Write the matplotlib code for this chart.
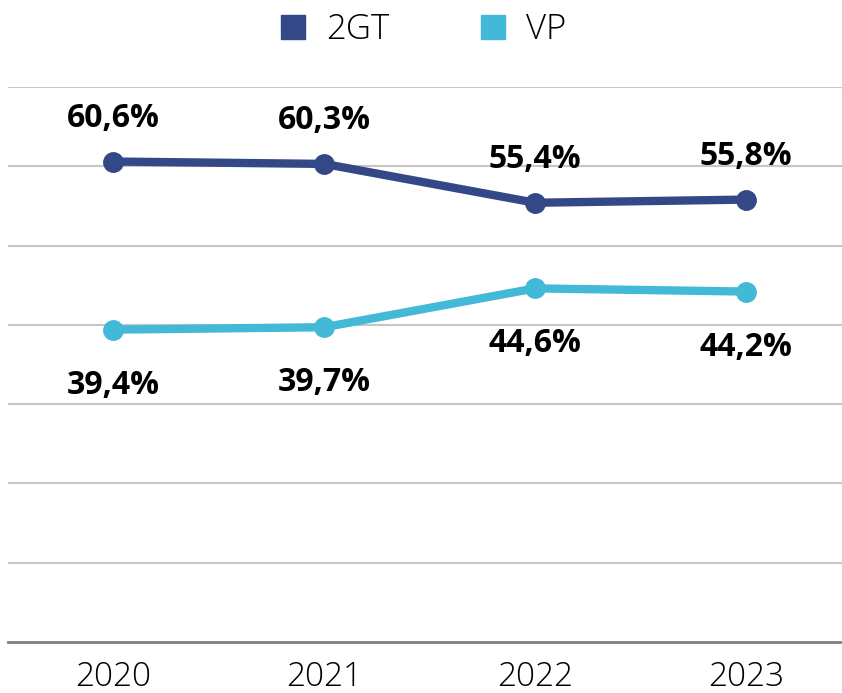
import matplotlib
matplotlib.use("Agg")
import matplotlib.pyplot as plt
from matplotlib.lines import Line2D

years = ["2020", "2021", "2022", "2023"]
gt2 = [60.6, 60.3, 55.4, 55.8]
vp = [39.4, 39.7, 44.6, 44.2]

dark = "#334886"
light = "#42B9D6"

plt.rcParams["font.family"] = ["Open Sans", "DejaVu Sans"]

fig = plt.figure(figsize=(8.42, 6.93), dpi=100)
ax = fig.add_axes([8 / 842, 51 / 693, 834 / 842, 555 / 693])

x = range(len(years))
ax.plot(x, gt2, color=dark, lw=6, marker="o", ms=14, solid_capstyle="round", zorder=3)
ax.plot(x, vp, color=light, lw=6, marker="o", ms=14, solid_capstyle="round", zorder=3)

def fmt(v):
    return f"{v:.1f}%".replace(".", ",")

for i, v in enumerate(gt2):
    ax.annotate(fmt(v), (i, v), xytext=(0, 31), textcoords="offset points",
                ha="center", va="center", fontsize=23, fontweight="bold", color="black")
for i, v in enumerate(vp):
    ax.annotate(fmt(v), (i, v), xytext=(0, -40), textcoords="offset points",
                ha="center", va="center", fontsize=23, fontweight="bold", color="black")

ax.set_ylim(0, 70)
ax.set_xlim(-0.5, 3.455)
ax.set_yticks(range(10, 71, 10))
ax.yaxis.grid(True, color="#c6c6c6", lw=1.5)
ax.set_axisbelow(True)
ax.tick_params(axis="y", length=0, labelleft=False)
ax.tick_params(axis="x", length=0, pad=13, labelsize=24)
ax.set_xticks(list(x))
ax.set_xticklabels(years, fontweight="light")
for s in ["top", "right", "left"]:
    ax.spines[s].set_visible(False)
ax.spines["bottom"].set_color("#7f7f7f")
ax.spines["bottom"].set_linewidth(2)

handles = [Line2D([], [], ls="none", marker="s", ms=17, color=dark),
           Line2D([], [], ls="none", marker="s", ms=17, color=light)]
fig.legend(handles, ["2GT", "VP"], loc="center", bbox_to_anchor=(0.5, 1 - 30 / 693),
           ncol=2, frameon=False, prop={"size": 25, "weight": "light"},
           columnspacing=2.5, handletextpad=0.45, handlelength=1.0)

fig.savefig("out.png", dpi=100)
